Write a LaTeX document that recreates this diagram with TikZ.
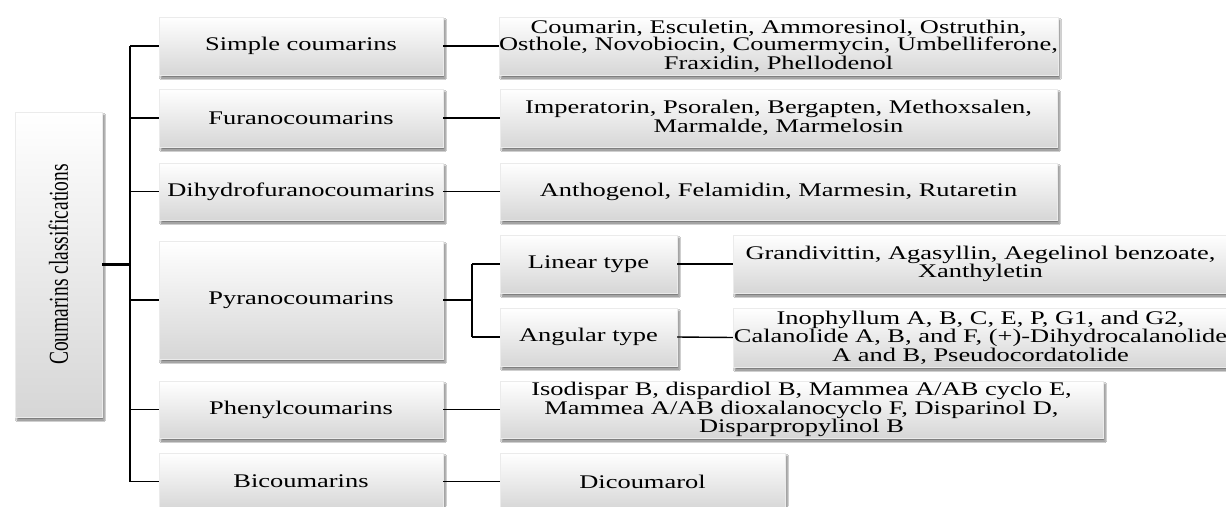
\documentclass[tikz,border=0pt]{standalone}
\usepackage{fontspec}
\usetikzlibrary{shadows.blur}
\newfontfamily\bodyfont[FakeStretch=1.37]{Liberation Serif}
\newfontfamily\rootfont{Liberation Serif}
\tikzset{
  box/.style={rectangle, top color=white, bottom color=black!16, draw=black!8, line width=0.4pt,
    blur shadow={shadow xshift=2pt, shadow yshift=-3pt, shadow blur steps=6, shadow opacity=55},
    inner sep=0pt, align=center, font=\bodyfont\fontsize{19.3}{17.5}\selectfont},
  conn/.style={line width=1.4pt, black},
  trunkline/.style={line width=2.2pt, black},
}
\begin{document}
\begin{tikzpicture}[x=1pt,y=-1pt]
\useasboundingbox (0,0) rectangle (1226,506);
\clip (0,0) rectangle (1226,506);
\fill[white] (0,0) rectangle (1226,506);
% root
\node[box, minimum width=87pt, minimum height=305pt] (root) at (58.5,264.5)
  {\rotatebox{90}{\scalebox{1}[1.4]{\rootfont\fontsize{19.5}{20}\selectfont Coumarins classifications}}};
% categories
\node[box, minimum width=284pt, minimum height=58pt] (simple) at (301,46) {Simple coumarins};
\node[box, minimum width=284pt, minimum height=58pt] (furano) at (301,118) {Furanocoumarins};
\node[box, minimum width=284pt, minimum height=57pt] (dihydro) at (301,191.5) {Dihydrofuranocoumarins};
\node[box, minimum width=284pt, minimum height=118pt] (pyrano) at (301,300) {Pyranocoumarins};
\node[box, minimum width=284pt, minimum height=57pt] (phenyl) at (301,409.5) {Phenylcoumarins};
\node[box, minimum width=284pt, minimum height=57pt] (bicou) at (301,481.5) {Bicoumarins};
% sub types
\node[box, minimum width=177pt, minimum height=58pt] (linear) at (588.5,264) {Linear type};
\node[box, minimum width=177pt, minimum height=58pt] (angular) at (588.5,337) {Angular type};
% right column
\node[box, minimum width=557pt, minimum height=58pt] (simpleR) at (778.5,46)
  {Coumarin, Esculetin, Ammoresinol, Ostruthin,\\Osthole, Novobiocin, Coumermycin, Umbelliferone,\\Fraxidin, Phellodenol};
\node[box, minimum width=557pt, minimum height=58pt] (furanoR) at (778.5,118)
  {Imperatorin, Psoralen, Bergapten, Methoxsalen,\\Marmalde, Marmelosin};
\node[box, minimum width=557pt, minimum height=57pt] (dihydroR) at (778.5,191.5)
  {Anthogenol, Felamidin, Marmesin, Rutaretin};
\node[box, minimum width=495pt, minimum height=58pt] (linearR) at (980.5,264)
  {Grandivittin, Agasyllin, Aegelinol benzoate,\\Xanthyletin};
\node[box, minimum width=495pt, minimum height=59pt] (angularR) at (980.5,337.5)
  {Inophyllum A, B, C, E, P, G1, and G2,\\Calanolide A, B, and F, (+)-Dihydrocalanolide\\A and B, Pseudocordatolide};
\node[box, minimum width=603pt, minimum height=57pt] (phenylR) at (801.5,409.5)
  {Isodispar B, dispardiol B, Mammea A/AB cyclo E,\\Mammea A/AB dioxalanocyclo F, Disparinol D,\\Disparpropylinol B};
\node[box, minimum width=285pt, minimum height=57pt] (bicouR) at (642.5,481.5) {Dicoumarol};
% connectors
\coordinate (trunk) at (130,264.5);
\coordinate (branch) at (472,300);
\draw[trunkline] (root.east) -- (trunk);
\draw[trunkline] (trunk |- simple.west) -- (trunk |- bicou.west);
\foreach \n in {simple,furano,dihydro,pyrano,phenyl,bicou}
  \draw[conn] (trunk |- \n.west) -- (\n.west);
\draw[conn] (simple.east) -- (simpleR.west);
\draw[conn] (furano.east) -- (furanoR.west);
\draw[conn] (dihydro.east) -- (dihydroR.west);
\draw[conn] (phenyl.east) -- (phenylR.west);
\draw[conn] (bicou.east) -- (bicouR.west);
\draw[conn] (pyrano.east) -- (branch);
\draw[trunkline] (branch |- linear.west) -- (branch |- angular.west);
\draw[conn] (branch |- linear.west) -- (linear.west);
\draw[conn] (branch |- angular.west) -- (angular.west);
\draw[conn] (linear.east) -- (linearR.west);
\draw[conn] (angular.east) -- (angularR.west);
\end{tikzpicture}
\end{document}
